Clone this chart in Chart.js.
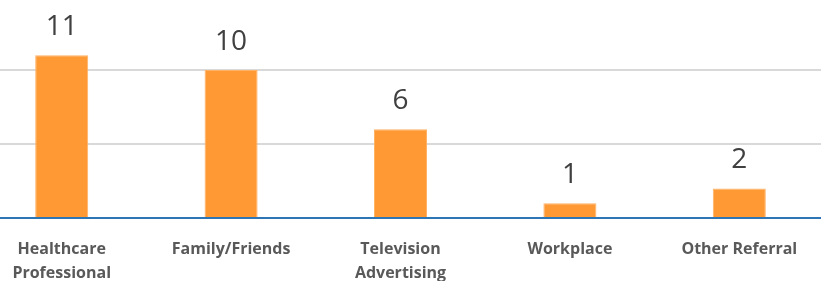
<!DOCTYPE html>
<html><head><meta charset="utf-8">
<script src="https://cdn.jsdelivr.net/npm/chart.js@4/dist/chart.umd.min.js"></script>
<style>
html,body{margin:0;padding:0;background:#fff;overflow:hidden;width:821px;height:281px;}
#wrap{position:absolute;left:-23px;top:-4px;width:847px;height:285px;}
</style></head><body>
<div id="wrap"><canvas id="c"></canvas></div>
<script>
const categories = [['Healthcare','Professional'], 'Family/Friends', ['Television','Advertising'], 'Workplace', 'Other Referral'];
const values = [11, 10, 6, 1, 2];
const yTicks = [0, 5, 10, 15];

const labelPlugin = {
  id: 'valueLabels',
  afterDatasetsDraw(chart) {
    const ctx = chart.ctx;
    const meta = chart.getDatasetMeta(0);
    ctx.save();
    ctx.fillStyle = '#404040';
    ctx.font = '28px "Open Sans", sans-serif';
    ctx.textAlign = 'center';
    ctx.textBaseline = 'alphabetic';
    meta.data.forEach((bar, i) => {
      ctx.fillText(String(values[i]), bar.x, bar.y - 20);
    });
    ctx.restore();
  }
};

new Chart(document.getElementById('c'), {
  type: 'bar',
  data: {
    labels: categories,
    datasets: [{
      data: values,
      backgroundColor: '#FF9933',
      borderColor: '#FFB266',
      borderWidth: 1,
      categoryPercentage: 1,
      barPercentage: 0.313
    }]
  },
  options: {
    responsive: true,
    maintainAspectRatio: false,
    animation: false,
    layout: { padding: 0 },
    plugins: { legend: { display: false }, tooltip: { enabled: false } },
    scales: {
      x: {
        grid: { display: false },
        border: { display: true, color: '#2E75B6', width: 2 },
        ticks: {
          color: '#595959',
          font: { family: '"Open Sans", sans-serif', size: 16, weight: 'bold', lineHeight: 1.5 },
          padding: 11,
          maxRotation: 0,
          autoSkip: false
        },
        afterFit(scale) { scale.height = 63; }
      },
      y: {
        min: 0, max: 15,
        afterBuildTicks(scale) { scale.ticks = yTicks.map(v => ({ value: v })); },
        grid: {
          color: (c) => c.tick && c.tick.value === 0 ? 'rgba(0,0,0,0)' : '#D9D9D9',
          lineWidth: 2,
          drawTicks: false
        },
        border: { display: false },
        ticks: { display: false },
        afterFit(scale) { scale.width = 0; }
      }
    }
  },
  plugins: [labelPlugin]
});
</script>
</body></html>
